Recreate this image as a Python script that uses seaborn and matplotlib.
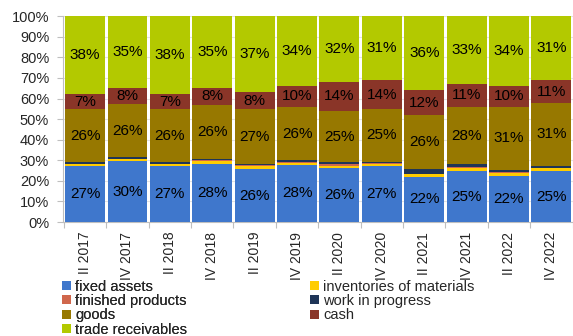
import matplotlib
matplotlib.use("Agg")
import matplotlib.pyplot as plt
import seaborn as sns
import numpy as np
import pandas as pd
from matplotlib.patches import Patch

sns.set_theme(style="white")
plt.rcParams['font.family'] = ['Liberation Sans', 'DejaVu Sans']

categories = ["II 2017", "IV 2017", "II 2018", "IV 2018", "II 2019", "IV 2019",
              "II 2020", "IV 2020", "II 2021", "IV 2021", "II 2022", "IV 2022"]
fixed_assets = [27.0, 29.6, 27.0, 28.3, 25.8, 27.8, 26.2, 27.3, 22.0, 24.8, 22.2, 24.6]
inventories_of_materials = [1.0, 1.0, 1.0, 1.5, 1.2, 1.0, 1.2, 1.0, 1.2, 1.5, 1.8, 1.5]
finished_products = [0.3, 0.2, 0.3, 0.3, 0.5, 0.5, 0.8, 0.3, 0.3, 0.3, 0.3, 0.3]
work_in_progress = [0.7, 0.8, 0.7, 0.7, 0.7, 0.7, 0.8, 0.8, 2.5, 1.4, 1.0, 1.0]
goods = [26.0, 25.6, 26.0, 26.2, 26.6, 26.0, 25.0, 25.3, 26.0, 28.0, 30.7, 30.6]
cash = [7.0, 7.8, 7.0, 8.0, 8.2, 10.0, 14.0, 14.3, 12.0, 11.0, 10.0, 10.8]
trade_receivables = [38.0, 35.0, 38.0, 35.0, 37.0, 34.0, 32.0, 31.0, 36.0, 33.0, 34.0, 31.2]

series = [
    ("fixed assets", fixed_assets, "#3F77CC", True),
    ("inventories of materials", inventories_of_materials, "#FFCC00", False),
    ("finished products", finished_products, "#D0674C", False),
    ("work in progress", work_in_progress, "#1F3557", False),
    ("goods", goods, "#977800", True),
    ("cash", cash, "#8A3528", True),
    ("trade receivables", trade_receivables, "#B3C900", True),
]

fig = plt.figure(figsize=(5.73, 3.36), dpi=100)
ax = fig.add_axes([0.110, 0.339, 0.890, 0.613])

x = np.arange(len(categories))
bottom = np.zeros(len(categories))
for name, vals, color, lab in series:
    vals = np.array(vals)
    ax.bar(x, vals, bottom=bottom, width=0.94, color=color, linewidth=0, zorder=3)
    if lab:
        for xi, v, b in zip(x, vals, bottom):
            ax.text(xi, b + v / 2, f"{int(round(v))}%", ha="center", va="center",
                    fontsize=11, color="black", zorder=4)
    bottom = bottom + vals

ax.set_xlim(-0.52, len(categories) - 0.49)
ax.set_ylim(0, 100)
ax.set_yticks(np.arange(0, 101, 10))
ax.set_yticklabels([f"{v}%" for v in range(0, 101, 10)], fontsize=10.5)
ax.set_xticks(x)
ax.set_xticklabels(categories, rotation=90, fontsize=10)
ax.tick_params(axis="x", length=0, pad=7)
ax.tick_params(axis="y", length=4, color="#BFBFBF", width=0.8, pad=6, left=True)
ax.set_xticks(np.arange(-0.5, len(categories), 1), minor=True)
ax.tick_params(axis="x", which="minor", length=4, color="#BFBFBF", width=0.8, bottom=True)
ax.yaxis.grid(True, color="#E3E3E3", linewidth=0.8, zorder=0)
ax.set_axisbelow(True)
for s in ["top", "right"]:
    ax.spines[s].set_visible(False)
for s in ["left", "bottom"]:
    ax.spines[s].set_color("#BFBFBF")
    ax.spines[s].set_linewidth(0.8)
ax.set_xlabel("")
ax.set_ylabel("")

def make_legend(idx, xpos):
    handles = [Patch(facecolor=series[i][2], edgecolor="none") for i in idx]
    labels = [series[i][0] for i in idx]
    return fig.legend(handles, labels, loc="upper left", bbox_to_anchor=(xpos, 0.168),
                      ncol=1, frameon=False, fontsize=10.5, handlelength=0.6,
                      handleheight=0.6, handletextpad=0.3, labelspacing=0.03,
                      borderaxespad=0, borderpad=0)

leg1 = make_legend([0, 2, 4, 6], 62 / 573)
fig.add_artist(leg1)
leg2 = make_legend([1, 3, 5], 310 / 573)

fig.savefig("out.png", dpi=100)
